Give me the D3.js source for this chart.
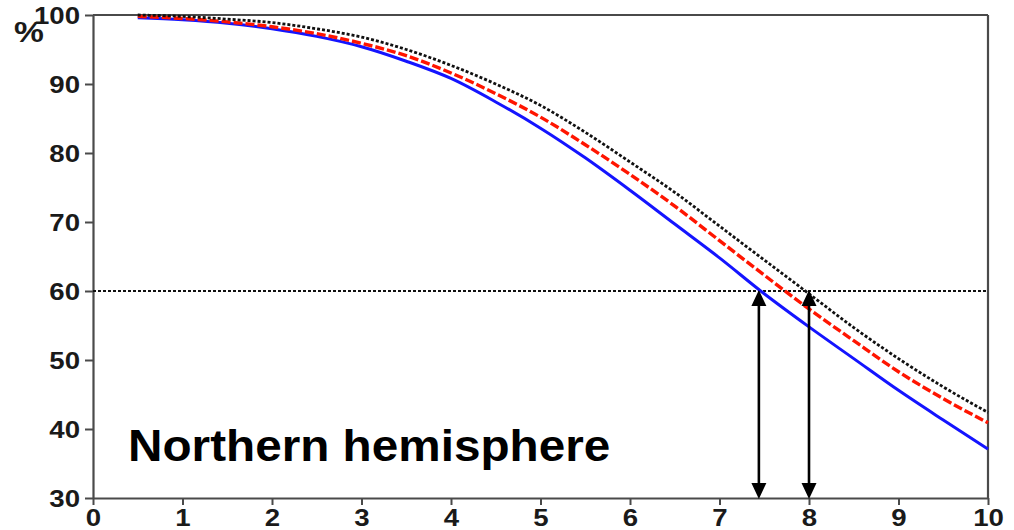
<!DOCTYPE html>
<html>
<head>
<meta charset="utf-8">
<script src="https://cdn.jsdelivr.net/npm/d3@7"></script>
<style>
  html, body { margin: 0; padding: 0; background: #fff; }
  svg { display: block; font-family: "Liberation Sans", Arial, Helvetica, sans-serif; }
</style>
</head>
<body>
<svg id="chart" width="1014" height="530"></svg>
<script>
// Share (%) against x, three scenarios
const xValues   = [0.5, 1, 1.5, 2, 2.5, 3, 3.5, 4, 4.5, 5, 5.5, 6, 6.5, 7, 7.5, 8, 8.5, 9, 9.5, 10];
const blueSeries  = [99.6, 99.3, 98.8, 98.0, 96.9, 95.4, 93.3, 90.8, 87.4, 83.6, 79.3, 74.6, 69.7, 64.8, 59.6, 54.8, 50.2, 45.6, 41.3, 37.1];
const redSeries   = [99.8, 99.5, 99.0, 98.3, 97.3, 95.9, 94.1, 91.6, 88.6, 85.2, 81.2, 76.9, 72.3, 67.3, 62.3, 57.4, 52.8, 48.3, 44.4, 40.9];
const blackSeries = [100.0, 99.8, 99.4, 98.9, 98.0, 96.8, 95.0, 92.7, 90.0, 86.9, 83.0, 78.7, 74.3, 69.4, 64.5, 59.6, 54.7, 50.2, 46.1, 42.4];

const xTicks = [0, 1, 2, 3, 4, 5, 6, 7, 8, 9, 10];
const yTicks = [30, 40, 50, 60, 70, 80, 90, 100];
const thresholdLevel = 60;
const arrowXs = [7.44, 8.0];
const titleText = "Northern hemisphere";
const unitText = "%";

const svg = d3.select("#chart");
const margin = { left: 93, right: 1014 - 988, top: 15, bottom: 530 - 498 };
const W = 1014, H = 530;

const x = d3.scaleLinear().domain([0, 10]).range([margin.left, W - margin.right]);
const y = d3.scaleLinear().domain([30, 100]).range([H - margin.bottom, margin.top]);

const axisColor = "#4a4a4a";
const tickFont = 23, tickStretch = 1.2;

// frame: top and right border
svg.append("line")
  .attr("x1", x(0)).attr("x2", x(10)).attr("y1", y(100)).attr("y2", y(100))
  .attr("stroke", axisColor).attr("stroke-width", 2.2);
svg.append("line")
  .attr("x1", x(10)).attr("x2", x(10)).attr("y1", y(100)).attr("y2", y(30))
  .attr("stroke", axisColor).attr("stroke-width", 2.2);

// y axis
const yAxis = svg.append("g")
  .attr("transform", `translate(${x(0)},0)`)
  .call(d3.axisLeft(y).tickValues(yTicks).tickSize(8).tickSizeOuter(0).tickFormat(d3.format("d")));
yAxis.select(".domain").attr("stroke", axisColor).attr("stroke-width", 2.2);
yAxis.selectAll(".tick line").attr("stroke", axisColor).attr("stroke-width", 2);
yAxis.selectAll(".tick text")
  .attr("x", -13 / tickStretch).attr("dy", "0.38em")
  .attr("transform", `scale(${tickStretch},1)`)
  .attr("font-size", tickFont).attr("font-weight", "bold").attr("fill", "#1a1a1a")
  .attr("font-family", "'Liberation Sans', Arial, sans-serif");

// x axis
const xAxis = svg.append("g")
  .attr("transform", `translate(0,${y(30)})`)
  .call(d3.axisBottom(x).tickValues(xTicks).tickSize(7).tickSizeOuter(0).tickFormat(d3.format("d")));
xAxis.select(".domain").attr("stroke", axisColor).attr("stroke-width", 2.2);
xAxis.selectAll(".tick line").attr("stroke", axisColor).attr("stroke-width", 2);
xAxis.selectAll(".tick text")
  .attr("y", 28).attr("dy", 0)
  .attr("transform", `scale(${tickStretch},1)`)
  .attr("font-size", tickFont).attr("font-weight", "bold").attr("fill", "#1a1a1a")
  .attr("font-family", "'Liberation Sans', Arial, sans-serif");

// unit label
svg.append("text")
  .attr("transform", `translate(14,42) scale(1.12,1)`)
  .attr("font-size", 30).attr("font-weight", "bold").attr("fill", "#1a1a1a")
  .text(unitText);

// threshold line
svg.append("line")
  .attr("x1", x(0)).attr("x2", x(10))
  .attr("y1", y(thresholdLevel)).attr("y2", y(thresholdLevel))
  .attr("stroke", "#111").attr("stroke-width", 2.2).attr("stroke-dasharray", "3,2");

// curves
const line = d3.line().x(d => x(d[0])).y(d => y(d[1])).curve(d3.curveMonotoneX);
const series = [
  { values: blueSeries,  color: "#1414ff", width: 3,   dash: null },
  { values: redSeries,   color: "#ff1500", width: 3.4, dash: "9,3" },
  { values: blackSeries, color: "#111111", width: 2.8, dash: "3,2" }
];
series.forEach(s => {
  svg.append("path")
    .datum(xValues.map((xv, i) => [xv, s.values[i]]))
    .attr("fill", "none")
    .attr("stroke", s.color)
    .attr("stroke-width", s.width)
    .attr("stroke-dasharray", s.dash)
    .attr("stroke-linejoin", "round")
    .attr("d", line);
});

// double-headed arrows from the threshold down to the axis
const headW = 7.5, headH = 15;
arrowXs.forEach(ax => {
  const px = x(ax), yTop = y(thresholdLevel), yBot = y(30);
  svg.append("line")
    .attr("x1", px).attr("x2", px).attr("y1", yTop + headH - 2).attr("y2", yBot - headH + 2)
    .attr("stroke", "#000").attr("stroke-width", 2.6);
  svg.append("path")
    .attr("d", `M${px},${yTop - 1} L${px - headW},${yTop + headH} L${px + headW},${yTop + headH} Z`)
    .attr("fill", "#000");
  svg.append("path")
    .attr("d", `M${px},${yBot + 1} L${px - headW},${yBot - headH} L${px + headW},${yBot - headH} Z`)
    .attr("fill", "#000");
});

// panel title
svg.append("text")
  .attr("transform", `translate(128,461) scale(1.06,1)`)
  .attr("font-size", 45).attr("font-weight", "bold").attr("fill", "#000")
  .text(titleText);
</script>
</body>
</html>
